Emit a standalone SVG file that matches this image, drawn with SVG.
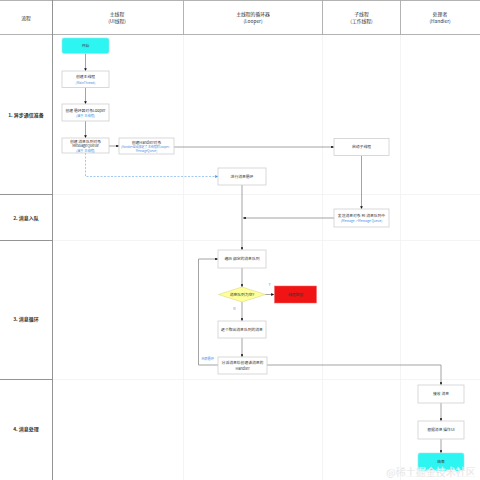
<svg xmlns="http://www.w3.org/2000/svg" width="480" height="480" viewBox="0 0 480 480">
<defs>
<style>
text{font-family:"Noto Sans CJK SC","Liberation Sans",sans-serif;text-anchor:middle}
.hd{font-size:4.8px;fill:#333}
.lb{font-size:5px;font-weight:bold;fill:#333}
.t{font-size:3.8px;fill:#333}
.s{font-size:3.2px;fill:#4a90e2}
.box{fill:#fff;stroke:#cfcfcf;stroke-width:0.8}
.start{fill:#2cf5f2;stroke:#9fe6e6;stroke-width:0.6}
.ln{fill:none;stroke:#999;stroke-width:0.9}
.dash{fill:none;stroke:#7ab0ee;stroke-width:0.7;stroke-dasharray:2,1.5}
.grid{stroke:#f1f1f1;stroke-width:0.8}
.hdl{stroke:#aaa;stroke-width:0.9}
.dk{stroke:#888;stroke-width:0.9}
</style>
<marker id="ah" viewBox="0 0 6 6" refX="6" refY="3" markerWidth="2.8" markerHeight="2.8" orient="auto" markerUnits="userSpaceOnUse"><path d="M0,0L6,3L0,6z" fill="#111"/></marker>
<marker id="ahb" viewBox="0 0 6 6" refX="6" refY="3" markerWidth="2.8" markerHeight="2.8" orient="auto" markerUnits="userSpaceOnUse"><path d="M0,0L6,3L0,6z" fill="#4a90e2"/></marker>
</defs>
<rect width="480" height="480" fill="#fff"/>
<g id="grid">
<line class="grid" x1="183.5" y1="35" x2="183.5" y2="480"/>
<line class="grid" x1="322.5" y1="35" x2="322.5" y2="480"/>
<line class="grid" x1="400.5" y1="35" x2="400.5" y2="480"/>
<line class="grid" x1="53" y1="194.5" x2="480" y2="194.5"/>
<line class="grid" x1="53" y1="240.5" x2="480" y2="240.5"/>
<line class="grid" x1="53" y1="379.5" x2="480" y2="379.5"/>
<line class="hdl" x1="0" y1="0.5" x2="480" y2="0.5"/>
<line class="hdl" x1="0" y1="34.5" x2="480" y2="34.5"/>
<line class="hdl" x1="183.5" y1="0" x2="183.5" y2="35"/>
<line class="hdl" x1="322.5" y1="0" x2="322.5" y2="35"/>
<line class="hdl" x1="400.5" y1="0" x2="400.5" y2="35"/>
<line class="dk" x1="52.5" y1="0" x2="52.5" y2="480"/>
<line class="dk" x1="0" y1="194.5" x2="52.5" y2="194.5"/>
<line class="dk" x1="0" y1="240.5" x2="52.5" y2="240.5"/>
<line class="dk" x1="0" y1="379.5" x2="52.5" y2="379.5"/>
</g>
<g id="header">
<text class="hd" x="26" y="19.5">流程</text>
<text class="hd" x="117" y="16">主线程</text>
<text class="hd" x="117" y="23">(UI线程)</text>
<text class="hd" x="253" y="16">主线程的循环器</text>
<text class="hd" x="253" y="23">(Looper)</text>
<text class="hd" x="361.5" y="16">子线程</text>
<text class="hd" x="361.5" y="23">(工作线程)</text>
<text class="hd" x="440" y="16">处理者</text>
<text class="hd" x="440" y="23">(Handler)</text>
</g>
<g id="lanes">
<text class="lb" x="26" y="116.5">1. 异步通信准备</text>
<text class="lb" x="26" y="219.5">2. 消息入队</text>
<text class="lb" x="26" y="320.5">3. 消息循环</text>
<text class="lb" x="26" y="431">4. 消息处理</text>
</g>
<g id="connectors">
<line class="ln" x1="85.5" y1="53.5" x2="85.5" y2="71" marker-end="url(#ah)"/>
<line class="ln" x1="85.5" y1="87.5" x2="85.5" y2="104" marker-end="url(#ah)"/>
<line class="ln" x1="85.5" y1="121" x2="85.5" y2="138" marker-end="url(#ah)"/>
<line class="ln" x1="109" y1="146" x2="119" y2="146" marker-end="url(#ah)"/>
<line class="ln" x1="174" y1="147" x2="334" y2="147" marker-end="url(#ah)"/>
<polyline class="dash" points="85.5,153 85.5,176.5 218,176.5" marker-end="url(#ahb)"/>
<line class="ln" x1="361.5" y1="155.5" x2="361.5" y2="209" marker-end="url(#ah)"/>
<line class="ln" x1="334" y1="218" x2="243" y2="218" marker-end="url(#ah)"/>
<line class="ln" x1="242" y1="185" x2="242" y2="250" marker-end="url(#ah)"/>
<line class="ln" x1="242" y1="268" x2="242" y2="287" marker-end="url(#ah)"/>
<line class="ln" x1="265" y1="294.5" x2="274" y2="294.5" marker-end="url(#ah)"/>
<line class="ln" x1="242" y1="302" x2="242" y2="321" marker-end="url(#ah)"/>
<line class="ln" x1="242" y1="338" x2="242" y2="357" marker-end="url(#ah)"/>
<polyline class="ln" points="218,365 198.5,365 198.5,259 218,259" marker-end="url(#ah)"/>
<polyline class="ln" points="267,365 441,365 441,385" marker-end="url(#ah)"/>
<line class="ln" x1="441" y1="403" x2="441" y2="421" marker-end="url(#ah)"/>
<line class="ln" x1="441" y1="439" x2="441" y2="453" marker-end="url(#ah)"/>
<text class="s" x="269.5" y="285.5">Y</text>
<text class="s" x="234.5" y="309.5">N</text>
<text class="s" x="207.5" y="360">无限循环</text>
</g>
<g id="n-start"><rect class="start" x="62" y="38" width="47" height="15.5" rx="2"/><text class="t" x="85.5" y="47.2">开始</text></g>
<g id="n-main"><rect class="box" x="62" y="71" width="47" height="16.5"/><text class="t" x="85.5" y="78.3">创建主线程</text><text class="s" x="85.5" y="83.5">(MainThread)</text></g>
<g id="n-looper"><rect class="box" x="62" y="104" width="47" height="17"/><text class="t" x="85.5" y="111.5">创建 循环器对象Looper</text><text class="s" x="85.5" y="116.8">(属于 主线程)</text></g>
<g id="n-mq"><rect class="box" x="62" y="138" width="47" height="15"/><text class="t" x="85.5" y="143">创建 消息队列对象</text><text class="t" x="85.5" y="147.4">MessageQueue</text><text class="s" x="85.5" y="151.5">(属于 主线程)</text></g>
<g id="n-handler"><rect class="box" x="119" y="138" width="55" height="16"/><text class="t" x="146.5" y="143.5">创建Handler对象</text><text class="s" x="146.5" y="147.8" style="font-size:2.9px">(Handler自动绑定了 主线程的Looper、</text><text class="s" x="146.5" y="151.6" style="font-size:2.9px">MessageQueue)</text></g>
<g id="n-sub"><rect class="box" x="334" y="138.5" width="55" height="17"/><text class="t" x="361.5" y="148.3">启动子线程</text></g>
<g id="n-loop"><rect class="box" x="218" y="168" width="48" height="17"/><text class="t" x="242" y="177.8">进行消息循环</text></g>
<g id="n-send"><rect class="box" x="334" y="209" width="55" height="18"/><text class="t" x="361.5" y="216.5">发送消息对象 到 消息队列中</text><text class="s" x="361.5" y="221.8">(Message -&gt;Message Queue)</text></g>
<g id="n-traverse"><rect class="box" x="218" y="250" width="48" height="18"/><text class="t" x="242" y="260.3">遍历 绑定的消息队列</text></g>
<g id="n-empty"><polygon points="242,287 265.5,294.5 242,302 218.5,294.5" fill="#ffff99" stroke="#d9d98a" stroke-width="0.6"/><text class="t" x="242" y="295.8">消息队列为空?</text></g>
<g id="n-block"><rect x="274.5" y="286" width="42" height="17" fill="#f01414" stroke="#e66" stroke-width="0.5"/><text class="t" x="295.5" y="295.8">线程阻塞</text></g>
<g id="n-take"><rect class="box" x="218" y="321" width="48" height="17"/><text class="t" x="242" y="330.8">逐个取出消息队列的消息</text></g>
<g id="n-dispatch"><rect class="box" x="218" y="357" width="49" height="17"/><text class="t" x="242.5" y="364">分派消息给创建该消息的</text><text class="t" x="242.5" y="369.5">Handler</text></g>
<g id="n-recv"><rect class="box" x="418" y="385" width="46" height="18"/><text class="t" x="441" y="395.3">接收 消息</text></g>
<g id="n-ui"><rect class="box" x="418" y="421" width="46" height="18"/><text class="t" x="441" y="431.3">根据消息 操作UI</text></g>
<g id="n-end"><rect class="start" x="418" y="453" width="46" height="18" rx="2"/><text class="t" x="441" y="462.5">结束</text></g>
<text x="431" y="476" style="font-size:10px;fill:#cfcfcf;stroke:#fff;stroke-width:0.3">@稀土掘金技术社区</text>
</svg>
